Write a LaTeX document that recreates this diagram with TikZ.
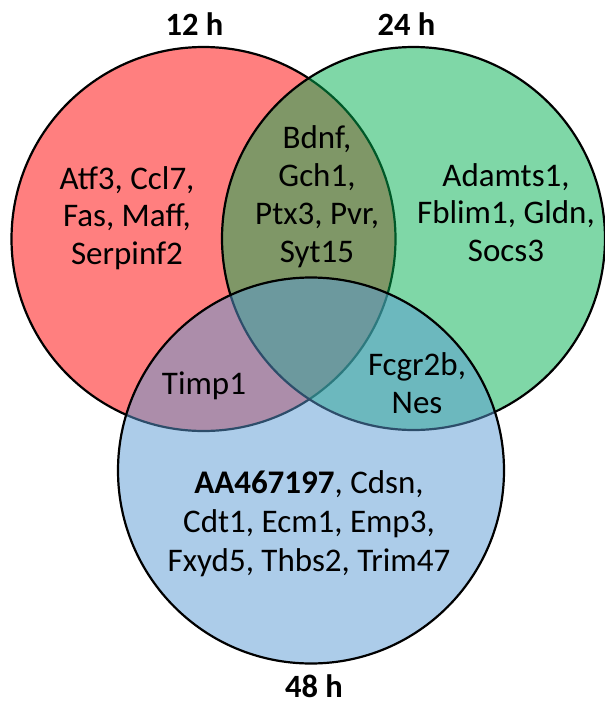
\documentclass[tikz,border=0pt]{standalone}
\usepackage{fontspec}
\setmainfont{Carlito}
\definecolor{vred}{RGB}{255,0,0}
\definecolor{vgreen}{RGB}{0,176,80}
\definecolor{vblue}{RGB}{91,155,213}
\tikzset{
  venn/.style={draw=black, line width=2.2pt, fill opacity=0.5},
  genes/.style={align=center, inner sep=0pt, font=\fontsize{33}{37.5}\selectfont},
  setlabel/.style={inner sep=0pt, anchor=base, font=\fontsize{32.5}{36}\selectfont\bfseries}
}
\begin{document}
\begin{tikzpicture}[x=1pt, y=-1pt]
\useasboundingbox (0,0) rectangle (605,705);
\fill[white] (0,0) rectangle (605,705);
% circles
\path[venn, fill=vred] (203.5,239) circle[radius=192pt];
\path[venn, fill=vgreen] (413.5,238.5) circle[radius=191.5pt];
\path[venn, fill=vblue] (311,470.5) circle[radius=193pt];
% set labels
\node[setlabel] (l12) at (194.5,35) {12 h};
\node[setlabel] (l24) at (406.5,35) {24 h};
\node[setlabel] (l48) at (314,697) {48 h};
% gene lists
\node[genes] (r) at (127,218) {Atf3, Ccl7,\\Fas, Maff,\\Serpinf2};
\node[genes, font=\fontsize{33}{38}\selectfont] (rg) at (317,196.5) {Bdnf,\\Gch1,\\Ptx3, Pvr,\\Syt15};
\node[genes] (g) at (506,212.5) {Adamts1,\\Fblim1, Gldn,\\Socs3};
\node[genes, anchor=base] (rb) at (204,394) {Timp1};
\node[genes, font=\fontsize{33}{38}\selectfont] (gb) at (417,383) {Fcgr2b,\\Nes};
\node[genes, font=\fontsize{33}{39}\selectfont] (b) at (309,523.5) {\textbf{AA467197}, Cdsn,\\Cdt1, Ecm1, Emp3,\\Fxyd5, Thbs2, Trim47};
\end{tikzpicture}
\end{document}
